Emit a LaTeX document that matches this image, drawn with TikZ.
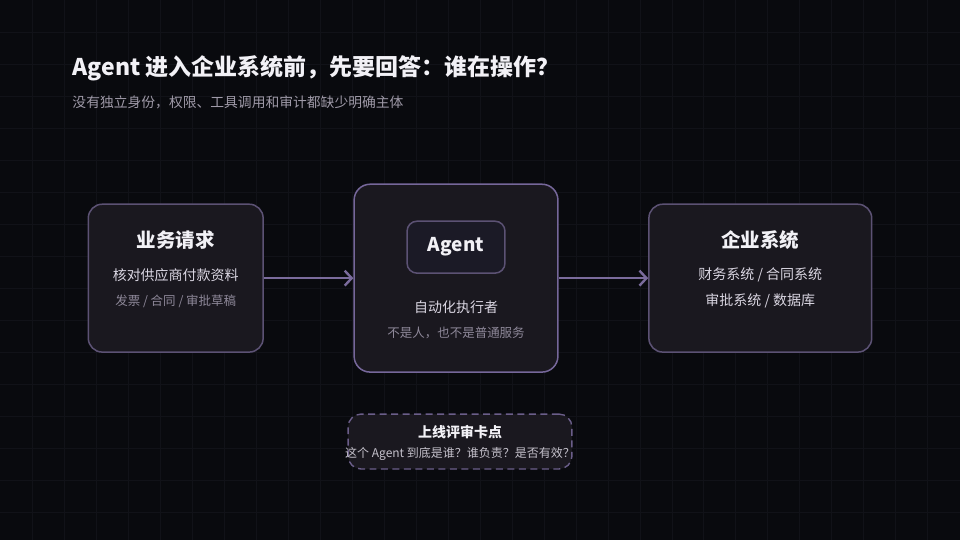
\documentclass[tikz,border=0pt]{standalone}
\usepackage{fontspec}
\setmainfont{Noto Sans CJK SC}
\usepackage{xcolor}
\usepackage{tikz}
\usetikzlibrary{positioning,arrows.meta}
\definecolor{bgdark}{HTML}{090A0E}
\definecolor{gridline}{HTML}{111218}
\definecolor{boxfill}{HTML}{1A181F}
\definecolor{badgefill}{HTML}{1B1A26}
\definecolor{boxedge}{HTML}{5C5274}
\definecolor{dashedge}{HTML}{6B5E8A}
\definecolor{agentedge}{HTML}{76679A}
\definecolor{flowline}{HTML}{7A6B9C}
\definecolor{textmain}{HTML}{F2F1F6}
\definecolor{textsub}{HTML}{DAD6E2}
\definecolor{textdim}{HTML}{8E8899}
\tikzstyle{panel}=[rectangle, draw=boxedge, line width=1.5pt, rounded corners=14pt, fill=boxfill]
\tikzstyle{agentpanel}=[panel, draw=agentedge, rounded corners=16pt]
\tikzstyle{badge}=[rectangle, draw=boxedge, line width=1.5pt, rounded corners=10pt, fill=badgefill,
        minimum width=98pt, minimum height=52pt, text=textmain, font=\fontsize{19}{22}\selectfont\bfseries]
\tikzstyle{checkpoint}=[rectangle, draw=dashedge, line width=1.4pt, dash pattern=on 7pt off 4.5pt,
        rounded corners=13pt, fill=boxfill, minimum width=224pt, minimum height=55pt]
\tikzstyle{headline}=[text=textmain, font=\fontsize{19.5}{22}\selectfont\bfseries]
\tikzstyle{lineone}=[text=textsub, font=\fontsize{14}{16}\selectfont]
\tikzstyle{linetwo}=[text=textdim, font=\fontsize{12.5}{15}\selectfont]
\tikzstyle{myarrow}=[-{Straight Barb[length=7pt, width=15pt, line width=2.4pt]}, draw=flowline, line width=2.2pt]

\begin{document}
\begin{tikzpicture}[x=1pt, y=-1pt]
    % background and grid
    \fill[bgdark] (0,0) rectangle (960,540);
    \foreach \gx in {32,64,...,928}
        \draw[gridline, line width=0.7pt] (\gx,0) -- (\gx,540);
    \foreach \gy in {32,64,...,512}
        \draw[gridline, line width=0.7pt] (0,\gy) -- (960,\gy);
    \useasboundingbox (0,0) rectangle (960,540);

    % heading
    \node (Title) [anchor=west, text=textmain, inner sep=0pt, font=\fontsize{23}{27}\selectfont\bfseries]
        at (72,68) {Agent 进入企业系统前，先要回答：谁在操作？};
    \node (Subtitle) [anchor=west, text=textdim!85!white, inner sep=0pt, font=\fontsize{13.8}{16}\selectfont]
        at (72,102) {没有独立身份，权限、工具调用和审计都缺少明确主体};

    % three panels
    \node (Request) [panel, minimum width=175pt, minimum height=148pt] at (175.5,278) {};
    \node (AgentBox) [agentpanel, minimum width=204pt, minimum height=188pt] at (456,278) {};
    \node (Systems) [panel, minimum width=223pt, minimum height=148pt] at (760.5,278) {};

    % request panel
    \node (RequestHead) [headline] at (175.5,240) {业务请求};
    \node (RequestOne) [lineone] at (175.5,275) {核对供应商付款资料};
    \node (RequestTwo) [linetwo] at (175.5,301) {发票 / 合同 / 审批草稿};

    % agent panel
    \node (Agent) [badge] at (456,247) {Agent};
    \node (AgentOne) [lineone] at (456,307) {自动化执行者};
    \node (AgentTwo) [linetwo] at (456,333) {不是人，也不是普通服务};

    % systems panel
    \node (SystemsHead) [headline] at (760.5,240) {企业系统};
    \node (SystemsOne) [lineone] at (760.5,275) {财务系统 / 合同系统};
    \node (SystemsTwo) [lineone] at (760.5,301) {审批系统 / 数据库};

    % review checkpoint
    \node (Review) [checkpoint] at (460,441.5) {};
    \node (ReviewHead) [text=textmain, font=\fontsize{14}{16}\selectfont\bfseries] at (460,432) {上线评审卡点};
    \node (ReviewText) [text=textsub!90!black, font=\fontsize{12}{14}\selectfont] at (460,454) {这个 Agent 到底是谁？谁负责？是否有效？};

    \draw[myarrow] (Request.east) -- (AgentBox.west);
    \draw[myarrow] (AgentBox.east) -- (Systems.west);
\end{tikzpicture}
\end{document}
